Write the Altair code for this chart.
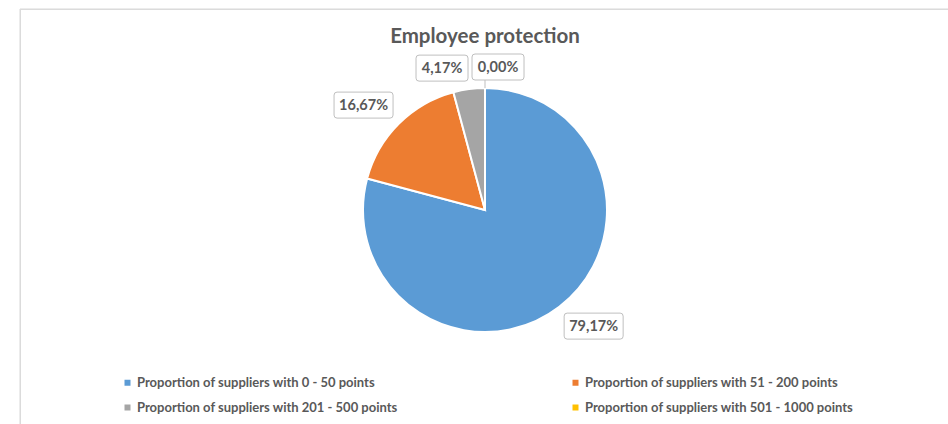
import altair as alt
import pandas as pd

title = "Employee protection"
categories = [
    "Proportion of suppliers with 0 - 50 points",
    "Proportion of suppliers with 51 - 200 points",
    "Proportion of suppliers with 201 - 500 points",
    "Proportion of suppliers with 501 - 1000 points",
]
values = [79.17, 16.67, 4.17, 0.00]
colors = ["#5B9BD5", "#ED7D31", "#A5A5A5", "#FFC000"]

# legend is filled column by column, so list the entries in reading order per column
legend_order = [0, 2, 1, 3]
legend_domain = [categories[i] for i in legend_order]
legend_range = [colors[i] for i in legend_order]

df = pd.DataFrame({"category": categories, "value": values, "idx": list(range(len(values)))})

FONT = "Lato"
TEXT = "#595959"
W, H = 928, 415
CX, CY = 465, 201
R = 122
GAP = 8
BOX_H = 26

xs = alt.Scale(domain=[-CX, W - CX], nice=False, zero=False)
ys = alt.Scale(domain=[-(H - CY), CY], nice=False, zero=False)

base = alt.Chart(df)

pie = base.mark_arc(outerRadius=R, stroke="white", strokeWidth=2).encode(
    theta=alt.Theta("value:Q", stack=True),
    order=alt.Order("idx:Q", sort="ascending"),
    color=alt.Color(
        "category:N",
        scale=alt.Scale(domain=legend_domain, range=legend_range),
        legend=alt.Legend(
            orient="none", legendX=101, legendY=367, columns=2, columnPadding=171,
            rowPadding=11, symbolType="square", symbolSize=36, symbolStrokeWidth=0,
            labelFont=FONT, labelFontSize=13, labelFontWeight="bold", labelColor=TEXT,
            labelLimit=500, labelOffset=3, padding=0, title=None,
        ),
    ),
    x=alt.XDatum(0, type="quantitative", scale=xs, axis=None),
    y=alt.YDatum(0, type="quantitative", scale=ys, axis=None),
)

lab = (
    base.transform_joinaggregate(total="sum(value)")
    .transform_window(cum="sum(value)", sort=[alt.SortField("idx")], frame=[None, 0])
    .transform_calculate(mid="(datum.cum - datum.value / 2) / datum.total * 2 * PI")
    .transform_calculate(label="replace(format(datum.value, '.2f'), '.', ',') + '%'")
    .transform_calculate(bw="7 * length(datum.label) + 17")
    .transform_calculate(sx="abs(sin(datum.mid)) < 1e-6 ? 0 : (sin(datum.mid) > 0 ? 1 : -1)")
    .transform_calculate(sy="abs(cos(datum.mid)) < 1e-6 ? 0 : (cos(datum.mid) > 0 ? 1 : -1)")
    .transform_calculate(ex=f"{R} * sin(datum.mid)")
    .transform_calculate(ey=f"{R} * cos(datum.mid)")
    .transform_calculate(ax=f"{R + GAP} * sin(datum.mid)")
    .transform_calculate(ay=f"{R + GAP} * cos(datum.mid)")
    .transform_calculate(bx0="datum.ax + datum.sx * datum.bw / 2")
    .transform_calculate(by=f"datum.ay + datum.sy * {BOX_H} / 2")
    .transform_calculate(left0="datum.bx0 - datum.bw / 2")
    .transform_calculate(right0="datum.bx0 + datum.bw / 2")
    .transform_window(
        window=[
            alt.WindowFieldDef(**{"op": "lag", "field": "right0", "as": "prevRight"}),
            alt.WindowFieldDef(**{"op": "lag", "field": "by", "as": "prevBy"}),
        ],
        sort=[alt.SortField("idx")],
    )
    .transform_calculate(
        nudge=f"(isValid(datum.prevRight) && abs(datum.by - datum.prevBy) < {BOX_H} && datum.prevRight + 4 > datum.left0) ? datum.prevRight + 4 - datum.left0 : 0"
    )
    .transform_calculate(bx="datum.bx0 + datum.nudge")
    .transform_calculate(bb=f"datum.by - datum.sy * {BOX_H} / 2")
    .transform_calculate(
        path=(
            "'M ' + (-datum.bw/2 + 3) + ' -13 H ' + (datum.bw/2 - 3) + ' Q ' + (datum.bw/2) + ' -13 ' + (datum.bw/2) + ' -10'"
            " + ' V 10 Q ' + (datum.bw/2) + ' 13 ' + (datum.bw/2 - 3) + ' 13 H ' + (-datum.bw/2 + 3)"
            " + ' Q ' + (-datum.bw/2) + ' 13 ' + (-datum.bw/2) + ' 10 V -10 Q ' + (-datum.bw/2) + ' -13 ' + (-datum.bw/2 + 3) + ' -13 Z'"
        )
    )
)

leader = lab.transform_filter("datum.nudge > 0").mark_rule(color="#BFBFBF", strokeWidth=1).encode(
    x=alt.X("ex:Q", scale=xs, axis=None),
    y=alt.Y("ey:Q", scale=ys, axis=None),
    y2="bb:Q",
)

boxes = lab.mark_point(
    size=4, filled=True, fill="white", stroke="#BFBFBF", strokeWidth=1, opacity=1
).encode(
    x=alt.X("bx:Q", scale=xs, axis=None),
    y=alt.Y("by:Q", scale=ys, axis=None),
    shape=alt.Shape("path:N", scale=None),
)

texts = lab.mark_text(
    font=FONT, fontSize=14.5, fontWeight="bold", color=TEXT, align="center", baseline="middle", dy=1
).encode(
    x=alt.X("bx:Q", scale=xs, axis=None),
    y=alt.Y("by:Q", scale=ys, axis=None),
    text="label:N",
)

frame_data = alt.InlineData(values=[{"k": 1}])
top_edge = alt.Chart(frame_data).mark_rule(color="#D9D9D9", strokeWidth=1).encode(
    x=alt.value(0), x2=alt.value(W), y=alt.value(0)
)
left_edge = alt.Chart(frame_data).mark_rule(color="#D9D9D9", strokeWidth=1).encode(
    x=alt.value(0), y=alt.value(0), y2=alt.value(H)
)

chart = (
    alt.layer(top_edge, left_edge, pie, leader, boxes, texts)
    .properties(
        width=W,
        height=H,
        padding={"left": 20, "top": 9, "right": 0, "bottom": 0},
        autosize=alt.AutoSizeParams(type="none"),
        title=alt.TitleParams(
            title, font=FONT, fontSize=20.5, fontWeight="bold", color=TEXT,
            anchor="middle", offset=-39, dx=1,
        ),
    )
    .configure_view(stroke="transparent")
    .configure(background="white")
)

chart.save("out.html", embed_options={"renderer": "svg", "actions": False})
